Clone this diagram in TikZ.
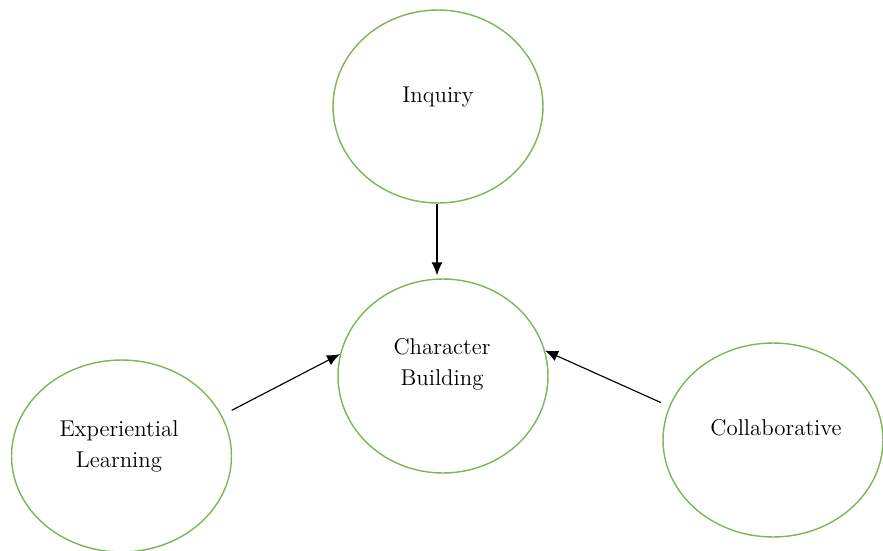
\documentclass[tikz,border=0pt]{standalone}
\usepackage{tikz}
\usetikzlibrary{shapes.geometric,arrows.meta}
\definecolor{ringgreen}{RGB}{125,182,85}
\tikzset{
  bubble/.style={draw=ringgreen, line width=0.8pt, ellipse, inner sep=0pt},
  label text/.style={align=center, font=\fontsize{13}{17.6}\selectfont},
  arr/.style={-{Latex[length=2.6mm,width=2.2mm]}, line width=0.65pt}
}
\begin{document}
\begin{tikzpicture}[x=0.02cm, y=-0.02cm]
  \useasboundingbox (0,0) rectangle (883,551);
  \node[bubble, minimum width=4.2cm, minimum height=3.86cm] (inq) at (438,106.5) {};
  \node[bubble, minimum width=4.2cm, minimum height=3.88cm] (cb) at (443,376) {};
  \node[bubble, minimum width=4.4cm, minimum height=3.84cm] (exp) at (121.5,456) {};
  \node[bubble, minimum width=4.4cm, minimum height=3.88cm] (col) at (773,440) {};

  \node[label text] (inqtext) at (438,97) {Inquiry};
  \node[label text] (cbtext) at (442,364) {Character\\Building};
  \node[label text] (exptext) at (119,446) {Experiential\\Learning};
  \node[label text] (coltext) at (776,428) {Collaborative};

  \draw[arr] ([xshift=-0.02cm]inq.south) -- ([xshift=-0.02cm,yshift=0.06cm]inq.south |- cb.north);
  \draw[arr, shorten <=0.22cm] (exp.22) -- (cb.168);
  \draw[arr, shorten <=0.18cm] (col.162) -- (cb.14);
\end{tikzpicture}
\end{document}
